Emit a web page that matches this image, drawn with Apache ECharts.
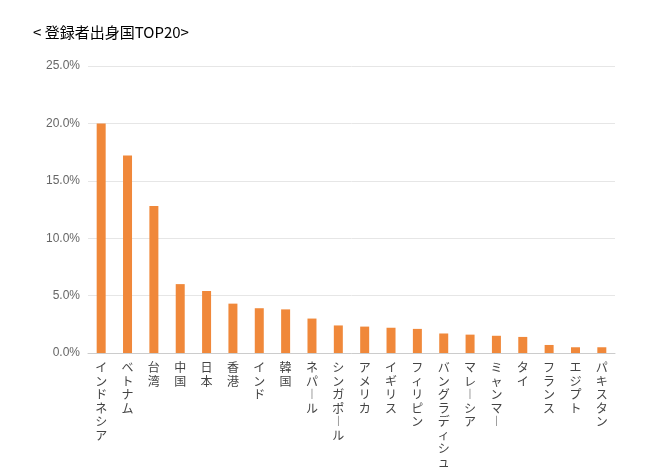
<!DOCTYPE html>
<html>
<head>
<meta charset="utf-8">
<script src="https://cdn.jsdelivr.net/npm/echarts@6/dist/echarts.min.js"></script>
<style>html,body{margin:0;padding:0;background:#fff}#chart{width:657px;height:475px}</style>
</head>
<body>
<div id="chart"></div>
<script>
const countries = ['インドネシア','ベトナム','台湾','中国','日本','香港','インド','韓国','ネパール','シンガポール','アメリカ','イギリス','フィリピン','バングラディシュ','マレーシア','ミャンマー','タイ','フランス','エジプト','パキスタン'];
const shares = [20.0,17.2,12.8,6.0,5.4,4.3,3.9,3.8,3.0,2.4,2.3,2.2,2.1,1.7,1.6,1.5,1.4,0.7,0.5,0.5];

const chart = echarts.init(document.getElementById('chart'));
chart.setOption({
    animation: false,
    title: {
        text: '< 登録者出身国TOP20>',
        left: 28, top: 20,
        textStyle: { fontSize: 15, fontWeight: 'normal', color: '#000', fontFamily: 'Noto Sans CJK JP' }
    },
    grid: { left: 88, right: 42, top: 66, bottom: 122 },
    xAxis: {
        type: 'category',
        data: countries,
        axisLine: { lineStyle: { color: '#ccc' } },
        axisTick: { show: false },
        axisLabel: {
            interval: 0,
            color: '#444',
            fontSize: 12,
            lineHeight: 13.5,
            verticalAlign: 'top',
            fontFamily: 'Noto Sans CJK JP',
            // 縦書き：長音記号は縦棒にする
            formatter: v => v.split('').map(c => c === 'ー' ? '︱' : c).join('\n')
        }
    },
    yAxis: {
        type: 'value',
        min: 0, max: 25, interval: 5,
        axisLine: { show: false },
        axisTick: { show: false },
        splitLine: { lineStyle: { color: '#e6e6e6' } },
        axisLabel: { color: '#666', fontSize: 12, formatter: v => v.toFixed(1) + '%' }
    },
    series: [{
        type: 'bar',
        data: shares,
        barWidth: 9,
        itemStyle: { color: '#f0883a' }
    }]
});
</script>
</body>
</html>
